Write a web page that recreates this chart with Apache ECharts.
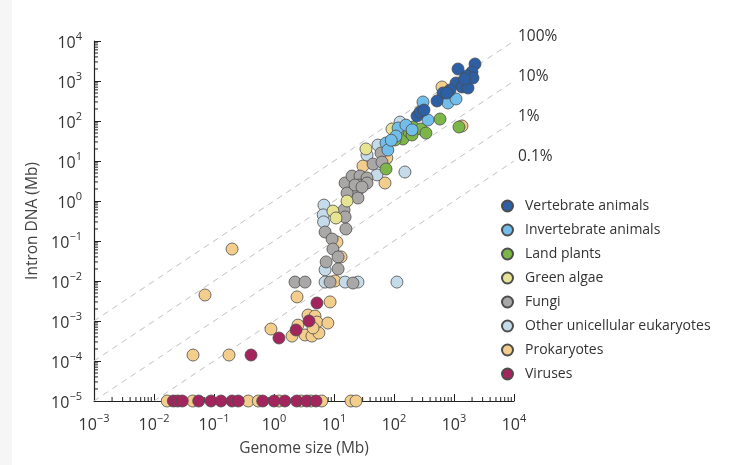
<!DOCTYPE html>
<html><head><meta charset="utf-8">
<script src="https://cdn.jsdelivr.net/npm/echarts@6/dist/echarts.min.js"></script>
<style>html,body{margin:0;padding:0;background:#fff}#c{width:744px;height:465px}</style>
</head><body><div id="c"></div>
<script>
// ---------- data (Genome size Mb, Intron DNA Mb); 1e-5 = plotted on the axis ----------
const categories = ['Vertebrate animals','Invertebrate animals','Land plants','Green algae','Fungi','Other unicellular eukaryotes','Prokaryotes','Viruses'];
const colors = ['#2c5fa4','#72bde9','#7db648','#e6e493','#aaa7a7','#c5dbe9','#f3cd8c','#a3255d'];

const vertebrates = [[1166,1995],[2239,2661],[1995,1679],[1648,1334],[1413,944],[1080,891],[858,596],[656,501],[521,316],[1359,708],[1711,668],[2073,1189],[242,133],[271,168],[316,188],[764,501],[1500,1120]];
const invertebrates = [[304,299],[794,282],[1080,355],[369,106],[117,67],[158,79],[73.6,28.2],[79,18.8],[108,42],[200,60],[90,33]];
const landPlants = [[73.6,6.3],[141,35.5],[207,70.8],[282,63],[341,50],[585,112],[1211,70.8],[178,53],[104,33.5],[200,44.7]];
const greenAlgae = [[34.1,20],[92.6,63],[16.5,1.0],[9.6,0.56],[10.8,0.376]];
const fungi = [[2.24,0.0094],[3.29,0.0094],[8.6,0.0094],[20.7,0.0089],[7.1,0.168],[9.3,0.112],[15.8,0.2],[9.6,0.063],[7.4,0.03],[11.7,0.04],[11.7,0.02],[14.7,0.6],[15.3,2.82],[20,4.2],[27.1,4.2],[35.5,3.76],[24.2,1.68],[25.1,1.19],[16.5,1.58],[44.7,8.4],[60.7,15.8],[26.1,2.51],[35.5,2.82],[22.4,2.51],[29.3,2.24],[15.3,0.4],[63,9.4]];
const otherEukaryotes = [[6.8,0.79],[6.6,0.45],[6.7,0.3],[7.1,0.019],[7.1,0.0094],[15.3,0.0094],[25.1,0.0094],[112,0.0094],[152,5.3],[52,4.5],[54,25],[35.5,14.1],[126,94]];
const prokaryotes = [[0.2,0.063],[0.0708,0.00447],[0.0447,1.41e-4],[0.178,1.41e-4],[2.42,0.004],[8.6,0.003],[0.89,6.3e-4],[2.0,4.2e-4],[2.51,7.9e-4],[3.69,1.41e-3],[4.82,1.33e-3],[5.2,9.4e-4],[7.9,8.9e-4],[3.29,4.47e-4],[4.29,4.2e-4],[5.6,5.0e-4],[4.47,6.7e-4],[631,708],[1358,75],[30.4,7.5],[76,11.9],[70.8,2.82],[13.1,0.04],[11.2,0.094],[10.4,0.01],
  [0.0166,1e-5],[0.0442,1e-5],[0.373,1e-5],[0.547,1e-5],[1.21,1e-5],[2.82,1e-5],[4.14,1e-5],[6.24,1e-5],[19.2,1e-5],[23.3,1e-5]];
const viruses = [[5.2,0.00282],[3.83,0.001],[2.33,5.96e-4],[1.21,3.76e-4],[0.414,1.41e-4],
  [0.021,1e-5],[0.0248,1e-5],[0.0296,1e-5],[0.0556,1e-5],[0.0891,1e-5],[0.131,1e-5],[0.2,1e-5],[0.254,1e-5],[0.648,1e-5],[1.0,1e-5],[1.52,1e-5],[2.39,1e-5],[3.51,1e-5],[5.01,1e-5]];

const percents = [1, 0.1, 0.01, 0.001];
const percentLabels = ['100%','10%','1%','0.1%'];
const xRange = [1e-3, 1e4];
const yRange = [1e-5, 1e4];

// draw order (bottom to top) -> index into categories
const drawOrder = [6,5,4,3,2,1,0,7];
const seriesData = [vertebrates, invertebrates, landPlants, greenAlgae, fungi, otherEukaryotes, prokaryotes, viruses];

const F = '"Open Sans", "Noto Sans", sans-serif';
const TXT = '#333';

function minorTicks(lo, hi) {
  const out = [];
  for (let d = lo; d < hi; d++) for (let m = 2; m <= 9; m++) out.push(m * Math.pow(10, d));
  return out;
}
const xMinor = minorTicks(-3, 4);
const yMinor = minorTicks(-5, 4);

function powLabel(v) {
  const e = Math.round(Math.log10(v));
  return '{b|10}{s|' + (e < 0 ? '\u2212' + (-e) : e) + '}';
}
const rich = {
  b: { fontSize: 16, color: TXT, fontFamily: F, lineHeight: 24 },
  s: { fontSize: 11, color: TXT, fontFamily: F, lineHeight: 13, verticalAlign: 'top' }
};

const series = [];
percents.forEach((p, i) => {
  series.push({
    type: 'line', silent: true, showSymbol: false, symbol: 'none', z: 1,
    data: [[Math.max(xRange[0], yRange[0] / p), Math.max(yRange[0], xRange[0] * p)], [xRange[1], xRange[1] * p]],
    lineStyle: { color: '#c0c0c0', width: 1, type: [6, 5] },
    endLabel: { show: true, formatter: percentLabels[i], color: TXT, fontSize: 15.5, fontFamily: F, distance: 4, offset: [0, -4] },
    emphasis: { disabled: true }
  });
});
drawOrder.forEach(ci => {
  series.push({
    name: categories[ci], type: 'scatter', data: seriesData[ci], symbolSize: 12, clip: false, z: 3,
    itemStyle: { color: colors[ci], borderColor: '#4d4d4d', borderWidth: 0.8, opacity: 1 },
    emphasis: { disabled: true }
  });
});
// log-scale minor ticks
series.push({
  type: 'custom', coordinateSystem: 'cartesian2d', silent: true, clip: false, z: 2,
  data: xMinor.map(v => [v, yRange[0]]),
  renderItem: (params, api) => {
    const p = api.coord([api.value(0), api.value(1)]);
    return { type: 'line', shape: { x1: p[0], y1: p[1], x2: p[0], y2: p[1] - 4 }, style: { stroke: '#222', lineWidth: 1 } };
  }
});
series.push({
  type: 'custom', coordinateSystem: 'cartesian2d', silent: true, clip: false, z: 2,
  data: yMinor.map(v => [xRange[0], v]),
  renderItem: (params, api) => {
    const p = api.coord([api.value(0), api.value(1)]);
    return { type: 'line', shape: { x1: p[0], y1: p[1], x2: p[0] + 4, y2: p[1] }, style: { stroke: '#222', lineWidth: 1 } };
  }
});

const chart = echarts.init(document.getElementById('c'), null, { renderer: 'canvas' });
chart.setOption({
  backgroundColor: '#fff',
  animation: false,
  graphic: [{ type: 'rect', left: 0, top: 0, shape: { width: 12, height: 465 }, style: { fill: '#f6f6f6' }, silent: true }],
  grid: { left: 94, right: 230, top: 41, bottom: 64, containLabel: false },
  legend: {
    data: categories, orient: 'vertical', left: 496, top: 194,
    icon: 'circle', itemWidth: 25, itemHeight: 11, itemGap: 10,
    textStyle: { fontSize: 14, color: TXT, fontFamily: F, lineHeight: 14 },
    selectedMode: false
  },
  xAxis: {
    type: 'log', logBase: 10, min: xRange[0], max: xRange[1], interval: 1,
    splitLine: { show: false },
    axisLine: { show: true, onZero: false, lineStyle: { color: '#222', width: 1.2 } },
    axisTick: { show: true, inside: true, length: 7, lineStyle: { color: '#222', width: 1 } },
    axisLabel: { formatter: powLabel, rich: rich, margin: 12 },
    name: 'Genome size (Mb)', nameLocation: 'middle', nameGap: 40,
    nameTextStyle: { fontSize: 15.5, color: '#444', fontFamily: F }
  },
  yAxis: {
    type: 'log', logBase: 10, min: yRange[0], max: yRange[1], interval: 1,
    splitLine: { show: false },
    axisLine: { show: true, onZero: false, lineStyle: { color: '#222', width: 1.2 } },
    axisTick: { show: true, inside: true, length: 7, lineStyle: { color: '#222', width: 1 } },
    axisLabel: { formatter: powLabel, rich: rich, margin: 12, padding: [4, 0, 0, 0] },
    name: 'Intron DNA (Mb)', nameLocation: 'middle', nameGap: 46,
    nameTextStyle: { fontSize: 15.5, color: '#444', fontFamily: F }
  },
  series: series
});
</script></body></html>
